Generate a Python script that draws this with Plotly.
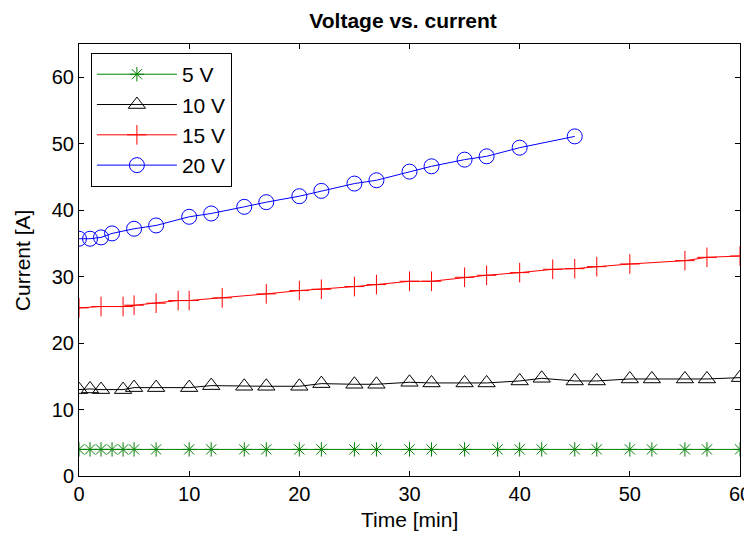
import plotly.graph_objects as go

GREEN = "#008000"
BLACK = "#000000"
RED = "#FF0000"
BLUE = "#0000FF"
FONT = "Liberation Sans, Arial, Helvetica, sans-serif"

# 5 V
t_5v = [0, 1, 2, 3, 4, 5, 7, 10, 12, 15, 17, 20, 22, 25, 27, 30, 32, 35, 38,
        40, 42, 45, 47, 50, 52, 55, 57, 60]
i_5v = [4.0] * len(t_5v)

# 10 V
t_10v = [0, 1, 2, 4, 5, 7, 10, 12, 15, 17, 20, 22, 25, 27, 30, 32, 35, 37,
         40, 42, 45, 47, 50, 52, 55, 57, 60]
i_10v = [13.0, 13.1, 13.0, 13.0, 13.3, 13.3, 13.3, 13.6, 13.5, 13.5, 13.5,
         13.9, 13.8, 13.8, 14.1, 14.0, 14.0, 14.0, 14.3, 14.7, 14.3, 14.3,
         14.6, 14.6, 14.6, 14.6, 14.8]

# 15 V
t_15v = [0, 2, 4, 5, 7, 9, 10, 13, 17, 20, 22, 25, 27, 30, 32, 35, 37, 40,
         43, 45, 47, 50, 55, 57, 60]
i_15v = [25.3, 25.5, 25.5, 25.7, 26.0, 26.4, 26.4, 26.8, 27.4, 27.9, 28.1,
         28.5, 28.8, 29.3, 29.3, 29.9, 30.2, 30.6, 31.1, 31.2, 31.5, 31.9,
         32.4, 32.9, 33.1]

# 20 V
t_20v = [0, 1, 2, 3, 5, 7, 10, 12, 15, 17, 20, 22, 25, 27, 30, 32, 35, 37,
         40, 45]
i_20v = [35.7, 35.7, 35.9, 36.5, 37.2, 37.7, 39.0, 39.5, 40.5, 41.2, 42.1,
         42.9, 44.0, 44.5, 45.8, 46.6, 47.6, 48.1, 49.4, 51.1]

series = [
    ("5 V", t_5v, i_5v, GREEN, "asterisk-open", 12),
    ("10 V", t_10v, i_10v, BLACK, "triangle-up-open", 15),
    ("15 V", t_15v, i_15v, RED, "cross-thin-open", 14),
    ("20 V", t_20v, i_20v, BLUE, "circle-open", 15),
]

fig = go.Figure()
for name, t, i, color, symbol, size in series:
    fig.add_trace(go.Scatter(
        x=t, y=i, name=name, mode="lines+markers", legendgroup=name,
        line=dict(color=color, width=1),
        marker=dict(symbol=symbol, size=size, color=color,
                    line=dict(color=color, width=1)),
    ))

axis_style = dict(
    showgrid=False, zeroline=False, showline=True, mirror="ticks",
    linecolor=BLACK, linewidth=1, ticks="inside", ticklen=5,
    tickcolor=BLACK, tickfont=dict(size=20, color=BLACK), automargin=False,
)

fig.update_xaxes(range=[0, 60], tickvals=[0, 10, 20, 30, 40, 50, 60],
                 **axis_style)
fig.update_yaxes(range=[0, 65], tickvals=[0, 10, 20, 30, 40, 50, 60],
                 **axis_style)

# axis titles placed like the matlab ones
fig.add_annotation(text="Time [min]", xref="paper", yref="paper",
                   x=0.5, y=-0.1, xanchor="center", yanchor="middle",
                   showarrow=False, font=dict(size=21))
fig.add_annotation(text="Current [A]", xref="paper", yref="paper",
                   x=-0.086, y=0.5, xanchor="center", yanchor="middle",
                   textangle=-90, showarrow=False, font=dict(size=21))

# page body has an 8px margin, so the figure is 8px smaller each way
fig.update_layout(
    width=744, height=530,
    margin=dict(l=71, r=12, t=36, b=62),
    paper_bgcolor="white", plot_bgcolor="white",
    font=dict(family=FONT, color=BLACK, size=20),
    title=dict(text="<b>Voltage vs. current</b>", x=0.531, xanchor="center",
               y=0.977, yanchor="middle", font=dict(size=21)),
    legend=dict(x=0.018, y=0.979, xanchor="left", yanchor="top",
                bordercolor=BLACK, borderwidth=1, bgcolor="white",
                font=dict(size=21), tracegroupgap=0, itemwidth=80),
    showlegend=True,
)

fig.write_html("out.html")
